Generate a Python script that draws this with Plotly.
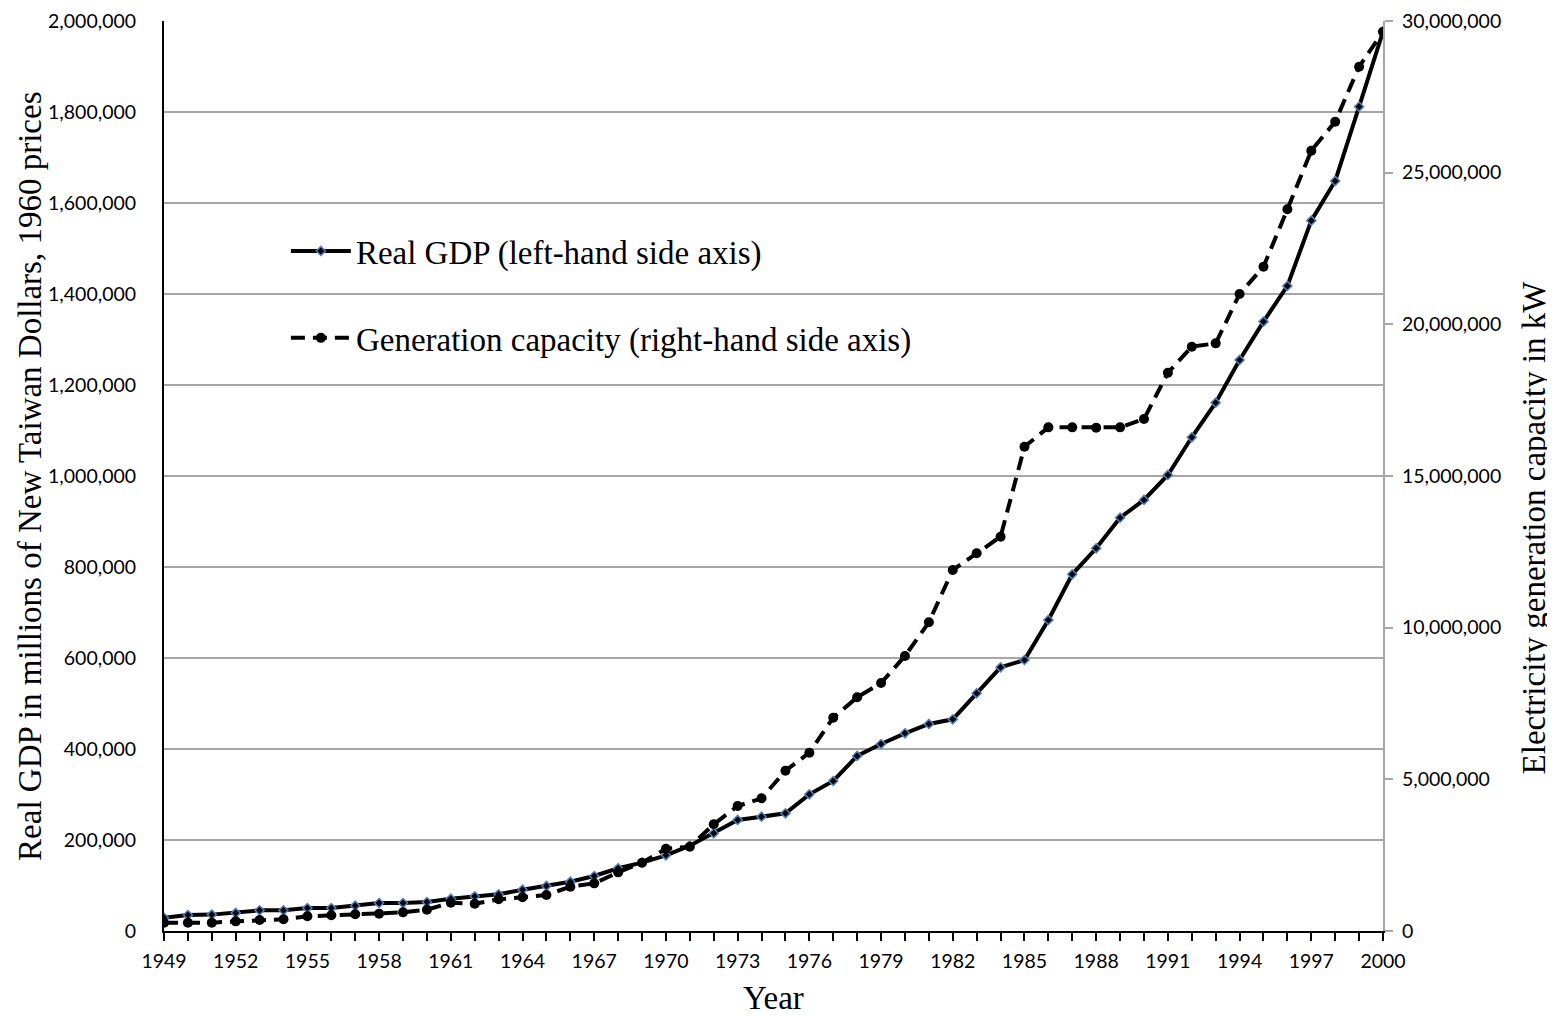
import plotly.graph_objects as go

years = list(range(1949, 2001))

real_gdp = [
    29000, 35000, 36000, 39600, 45400, 45400, 50500, 50500, 55700, 61500,
    61500, 63700, 71000, 76200, 80600, 90800, 99000, 108400, 120900, 137800,
    150200, 166400, 187500, 214700, 244000, 251200, 258700, 300400, 329700, 384700,
    411000, 434500, 455000, 465300, 522400, 579600, 595600, 683600, 784000, 841100,
    908400, 947300, 1002300, 1085100, 1161200, 1255000, 1339300, 1417700, 1561300, 1648500,
    1811800, 1976700,
]

gen_capacity = [
    274000, 274000, 274000, 318000, 363000, 385000, 484000, 517000, 550000, 571000,
    615000, 703000, 934000, 901000, 1044000, 1110000, 1187000, 1460000, 1571000, 1934000,
    2252000, 2714000, 2780000, 3517000, 4121000, 4374000, 5285000, 5879000, 7033000, 7704000,
    8176000, 9066000, 10176000, 11901000, 12451000, 13000000, 15966000, 16604000, 16604000, 16593000,
    16604000, 16879000, 18405000, 19263000, 19373000, 21000000, 21900000, 23792000, 25725000, 26681000,
    28494000, 29648000,
]

gdp_name = "Real GDP (left-hand side axis)"
cap_name = "Generation capacity (right-hand side axis)"
x_title = "Year"
y_title = "Real GDP in millions of New Taiwan Dollars, 1960 prices"
y2_title = "Electricity generation capacity in kW"

serif = "Liberation Serif, Times New Roman, serif"
title_font = dict(family=serif, size=33, color="black")
tickfont = dict(family="Lato, Open Sans, sans-serif", size=19.5, color="black")

fig = go.Figure()
fig.add_trace(go.Scatter(
    x=years, y=real_gdp, name=gdp_name, mode="lines+markers",
    line=dict(color="black", width=4),
    marker=dict(symbol="diamond", size=7, color="black",
                line=dict(color="#4F81BD", width=1.5)),
    legendgroup="a", yaxis="y",
))
fig.add_trace(go.Scatter(
    x=years, y=gen_capacity, name=cap_name, mode="lines+markers",
    line=dict(color="black", width=4, dash="14px,8px"),
    marker=dict(symbol="circle", size=10, color="black"),
    legendgroup="b", yaxis="y2",
))

# the page body has an 8px default margin, so the figure is sized to fit the window
fig.update_layout(
    template="none",
    width=1547, height=1008,
    margin=dict(l=156, r=172, t=13, b=85),
    paper_bgcolor="white", plot_bgcolor="white",
    showlegend=True,
    legend=dict(
        x=0.1, y=0.778, xanchor="left", yanchor="top",
        font=title_font,
        bgcolor="rgba(0,0,0,0)", tracegroupgap=41,
        itemwidth=60,
    ),
    xaxis=dict(
        range=[1949, 2000], tick0=1949, dtick=3, automargin=False,
        showgrid=False, zeroline=False,
        showline=True, linecolor="black", linewidth=2,
        ticks="outside", ticklen=8, tickwidth=1.5, tickcolor="black",
        minor=dict(dtick=1, tick0=1949, ticks="outside", ticklen=8,
                   tickwidth=1.5, tickcolor="black", showgrid=False),
        tickfont=tickfont, ticklabelstandoff=4,
    ),
    yaxis=dict(
        range=[0, 2000000], dtick=200000, tickformat=",d", automargin=False,
        showgrid=True, gridcolor="#A6A6A6", gridwidth=1.5,
        zeroline=False,
        showline=True, linecolor="black", linewidth=2,
        ticks="", ticklabelstandoff=22,
        tickfont=tickfont,
    ),
    yaxis2=dict(
        range=[0, 30000000], dtick=5000000, tickformat=",d", automargin=False,
        overlaying="y", side="right", anchor="x",
        showgrid=False, zeroline=False,
        showline=True, linecolor="#A6A6A6", linewidth=2,
        ticks="outside", ticklen=8, tickwidth=1.5, tickcolor="#A6A6A6",
        ticklabelstandoff=5,
        tickfont=tickfont,
    ),
    annotations=[
        dict(text=x_title, xref="paper", yref="paper", x=0.5, y=-0.074,
             xanchor="center", yanchor="middle", showarrow=False, font=title_font),
        dict(text=y_title, xref="paper", yref="paper", x=-0.110, y=0.5,
             xanchor="center", yanchor="middle", textangle=-90, showarrow=False,
             font=title_font),
        dict(text=y2_title, xref="paper", yref="paper", x=1.1235, y=0.443,
             xanchor="center", yanchor="middle", textangle=-90, showarrow=False,
             font=title_font),
    ],
)

fig.write_html("out.html")
